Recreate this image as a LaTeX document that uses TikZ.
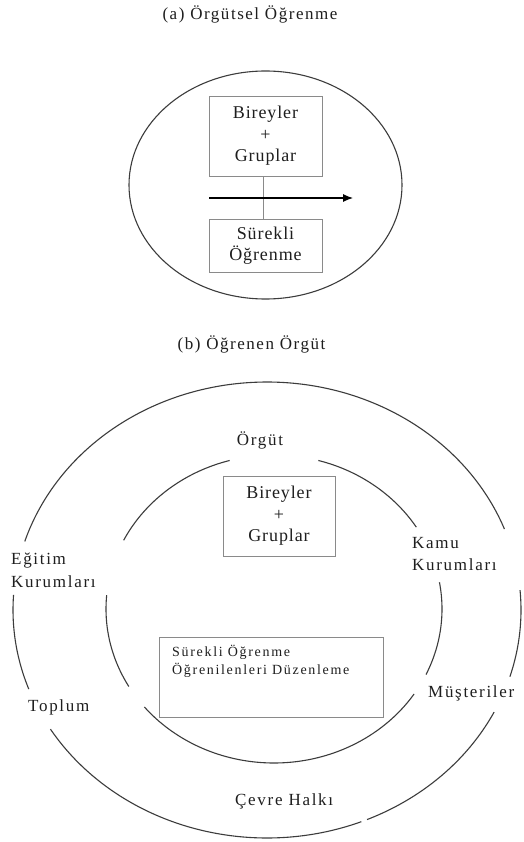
\documentclass[tikz,border=0pt]{standalone}
\usepackage{fontspec}
\usetikzlibrary{arrows.meta}
\setmainfont{Liberation Serif}
\newfontfamily\labfont[LetterSpace=10]{Liberation Serif}
\newfontfamily\boxfont[LetterSpace=5]{Liberation Serif}
\newfontfamily\smallfont[LetterSpace=12]{Liberation Serif}
\newfontfamily\titfont[LetterSpace=9]{Liberation Serif}
\definecolor{ink}{HTML}{1E1E1E}
\definecolor{arcc}{HTML}{3C3C3C}
\definecolor{boxc}{HTML}{8A8A8A}
\begin{document}
\begin{tikzpicture}[x=1pt,y=-1pt,
  arcline/.style={draw=arcc,line width=1.1pt},
  boxnode/.style={draw=boxc,line width=0.9pt,rectangle,inner sep=0pt,text=ink,align=center,font=\boxfont\fontsize{18}{21.5}\selectfont},
  title/.style={inner sep=0pt,anchor=base,text=ink,font=\titfont\fontsize{17}{20}\selectfont},
  lab/.style={inner sep=0pt,anchor=base west,text=ink,align=left,font=\labfont\fontsize{17}{22.5}\selectfont},
  smalltext/.style={inner sep=0pt,anchor=base west,text=ink,align=left,font=\smallfont\fontsize{14}{18}\selectfont}]
\useasboundingbox[fill=white] (0,0) rectangle (523,842);

% (a)
\node[title] (ta) at (250,19.3) {(a) Örgütsel Öğrenme};
\draw[arcline] (265.5,185) ellipse [x radius=136.5, y radius=114];
\node[boxnode,minimum width=113pt,minimum height=80pt] (a1) at (265.5,136) {Bireyler\\+\\Gruplar};
\node[boxnode,minimum width=113pt,minimum height=53pt] (a2) at (265.5,245.5) {Sürekli\\Öğrenme};
\draw[draw=boxc,line width=0.9pt] ([xshift=-2.5pt]a1.south) -- ([xshift=-2.5pt]a2.north);
\coordinate (arS) at (209,198);
\coordinate (arE) at (353,198);
\draw[black,line width=1.1pt,-{Latex[length=10pt,width=8pt]}] (arS) -- (arE);

% (b)
\node[title] (tb) at (251.5,349) {(b) Öğrenen Örgüt};

% outer ring
\draw[arcline] plot[domain=20.8:162.5,samples=80,smooth] ({267+254*cos(\x)},{610-228*sin(\x)});
\draw[arcline] plot[domain=176.2:200.3,samples=30,smooth] ({267+254*cos(\x)},{610-228*sin(\x)});
\draw[arcline] plot[domain=211.5:291.8,samples=60,smooth] ({267+254*cos(\x)},{610-228*sin(\x)});
\draw[arcline] plot[domain=293.2:333.4,samples=40,smooth] ({267+254*cos(\x)},{610-228*sin(\x)});
\draw[arcline] plot[domain=-17:5,samples=30,smooth] ({267+254*cos(\x)},{610-228*sin(\x)});

% inner ring
\draw[arcline] plot[domain=105.3:153.5,samples=40,smooth] ({274+168*cos(\x)},{609-154*sin(\x)});
\draw[arcline] plot[domain=32.1:74.7,samples=40,smooth] ({274+168*cos(\x)},{609-154*sin(\x)});
\draw[arcline] plot[domain=-25.2:10,samples=30,smooth] ({274+168*cos(\x)},{609-154*sin(\x)});
\draw[arcline] plot[domain=219.5:326.5,samples=60,smooth] ({274+168*cos(\x)},{609-154*sin(\x)});
\draw[arcline] plot[domain=174.8:210.2,samples=30,smooth] ({274+168*cos(\x)},{609-154*sin(\x)});

\node[boxnode,minimum width=112pt,minimum height=80pt] (b1) at (279,516) {Bireyler\\+\\Gruplar};
\node[boxnode,minimum width=224pt,minimum height=80pt] (b2) at (271,677) {};
\node[smalltext] (b2t) at (172,674) {Sürekli Öğrenme\\Öğrenilenleri Düzenleme};

\node[lab,anchor=base] (org) at (260,445.7) {Örgüt};
\node[lab] (egt) at (11,587.3) {Eğitim\\Kurumları};
\node[lab] (kamu) at (412,570.7) {Kamu\\Kurumları};
\node[lab] (top) at (28,711.7) {Toplum};
\node[lab] (mus) at (428,697.3) {Müşteriler};
\node[lab] (cev) at (235,805) {Çevre Halkı};
\end{tikzpicture}
\end{document}
